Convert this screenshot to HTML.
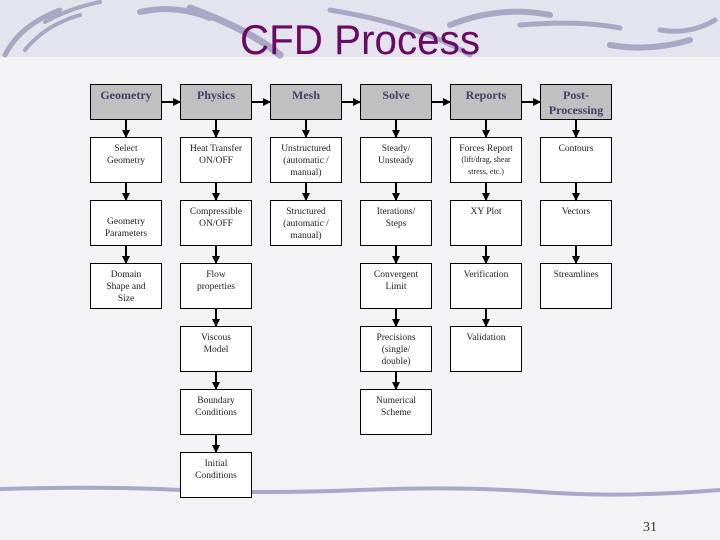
<!DOCTYPE html>
<html><head><meta charset="utf-8"><style>
html,body{margin:0;padding:0;width:720px;height:540px;overflow:hidden;background:#f3f3f5}
</style></head><body>
<svg width="720" height="540" xmlns="http://www.w3.org/2000/svg">
<defs>
<marker id="ah" markerWidth="8" markerHeight="8" refX="7" refY="4" orient="auto" markerUnits="userSpaceOnUse">
<path d="M0,0 L8,4 L0,8 z" fill="#000"/></marker>
</defs>
<rect x="0" y="0" width="720" height="57" fill="#e4e4ee"/>
<g fill="none" stroke="#a8a8c4" stroke-linecap="round">
<path d="M5,55 Q20,25 60,10" stroke-width="5"/>
<path d="M25,50 Q45,25 80,15" stroke-width="4"/>
<path d="M45,22 Q70,8 100,2" stroke-width="4"/>
<path d="M140,12 Q175,4 210,18" stroke-width="6"/>
<path d="M190,8 Q250,30 280,55" stroke-width="7"/>
<path d="M330,10 Q420,25 470,55" stroke-width="5"/>
<path d="M450,25 Q500,5 550,15" stroke-width="6"/>
<path d="M520,25 Q580,20 620,28" stroke-width="5"/>
<path d="M610,45 Q650,52 690,40" stroke-width="6"/>
<path d="M660,30 Q690,35 715,20" stroke-width="5"/>
</g>
<text x="360" y="54" text-anchor="middle" font-family="Liberation Sans, sans-serif" font-size="42" fill="#6a0a64" textLength="240" lengthAdjust="spacingAndGlyphs">CFD Process</text>
<path d="M0,489 Q100,486 180,490 T360,490 T540,492 T720,490" fill="none" stroke="#a8a8c8" stroke-width="4"/>
<text x="650" y="531" text-anchor="middle" font-family="Liberation Serif, serif" font-size="14" fill="#333">31</text>

<g stroke="#000" stroke-width="2" marker-end="url(#ah)">
<line x1="162" y1="102" x2="180" y2="102"/>
<line x1="252" y1="102" x2="270" y2="102"/>
<line x1="342" y1="102" x2="360" y2="102"/>
<line x1="432" y1="102" x2="450" y2="102"/>
<line x1="522" y1="102" x2="540" y2="102"/>
<!-- verticals -->
<line x1="126" y1="120" x2="126" y2="137"/><line x1="126" y1="183" x2="126" y2="200"/><line x1="126" y1="246" x2="126" y2="263"/>
<line x1="216" y1="120" x2="216" y2="137"/><line x1="216" y1="183" x2="216" y2="200"/><line x1="216" y1="246" x2="216" y2="263"/><line x1="216" y1="309" x2="216" y2="326"/><line x1="216" y1="372" x2="216" y2="389"/><line x1="216" y1="435" x2="216" y2="452"/>
<line x1="306" y1="120" x2="306" y2="137"/><line x1="306" y1="183" x2="306" y2="200"/>
<line x1="396" y1="120" x2="396" y2="137"/><line x1="396" y1="183" x2="396" y2="200"/><line x1="396" y1="246" x2="396" y2="263"/><line x1="396" y1="309" x2="396" y2="326"/><line x1="396" y1="372" x2="396" y2="389"/>
<line x1="486" y1="120" x2="486" y2="137"/><line x1="486" y1="183" x2="486" y2="200"/><line x1="486" y1="246" x2="486" y2="263"/><line x1="486" y1="309" x2="486" y2="326"/>
<line x1="576" y1="120" x2="576" y2="137"/><line x1="576" y1="183" x2="576" y2="200"/><line x1="576" y1="246" x2="576" y2="263"/>
</g>

<g fill="#c0c0c0" stroke="#000" stroke-width="1">
<rect x="90.5" y="84.5" width="71" height="35"/><rect x="180.5" y="84.5" width="71" height="35"/><rect x="270.5" y="84.5" width="71" height="35"/><rect x="360.5" y="84.5" width="71" height="35"/><rect x="450.5" y="84.5" width="71" height="35"/><rect x="540.5" y="84.5" width="71" height="35"/>
</g>
<g font-family="Liberation Serif, serif" font-size="12" font-weight="bold" fill="#40406a" text-anchor="middle">
<text x="126" y="99">Geometry</text><text x="216" y="99">Physics</text><text x="306" y="99">Mesh</text><text x="396" y="99">Solve</text><text x="486" y="99">Reports</text><text x="576" y="99">Post-</text><text x="576" y="114">Processing</text>
</g>

<g fill="#fff" stroke="#000" stroke-width="1">
<rect x="90.5" y="137.5" width="71" height="45"/><rect x="90.5" y="200.5" width="71" height="45"/><rect x="90.5" y="263.5" width="71" height="45"/>
<rect x="180.5" y="137.5" width="71" height="45"/><rect x="180.5" y="200.5" width="71" height="45"/><rect x="180.5" y="263.5" width="71" height="45"/><rect x="180.5" y="326.5" width="71" height="45"/><rect x="180.5" y="389.5" width="71" height="45"/><rect x="180.5" y="452.5" width="71" height="45"/>
<rect x="270.5" y="137.5" width="71" height="45"/><rect x="270.5" y="200.5" width="71" height="45"/>
<rect x="360.5" y="137.5" width="71" height="45"/><rect x="360.5" y="200.5" width="71" height="45"/><rect x="360.5" y="263.5" width="71" height="45"/><rect x="360.5" y="326.5" width="71" height="45"/><rect x="360.5" y="389.5" width="71" height="45"/>
<rect x="450.5" y="137.5" width="71" height="45"/><rect x="450.5" y="200.5" width="71" height="45"/><rect x="450.5" y="263.5" width="71" height="45"/><rect x="450.5" y="326.5" width="71" height="45"/>
<rect x="540.5" y="137.5" width="71" height="45"/><rect x="540.5" y="200.5" width="71" height="45"/><rect x="540.5" y="263.5" width="71" height="45"/>
</g>

<g font-family="Liberation Serif, serif" font-size="9.5" fill="#222" text-anchor="middle">
<text x="126" y="151">Select</text><text x="126" y="163">Geometry</text>
<text x="126" y="224">Geometry</text><text x="126" y="236">Parameters</text>
<text x="126" y="277">Domain</text><text x="126" y="289">Shape and</text><text x="126" y="301">Size</text>

<text x="216" y="151">Heat Transfer</text><text x="216" y="163">ON/OFF</text>
<text x="216" y="214">Compressible</text><text x="216" y="226">ON/OFF</text>
<text x="216" y="277">Flow</text><text x="216" y="289">properties</text>
<text x="216" y="340">Viscous</text><text x="216" y="352">Model</text>
<text x="216" y="403">Boundary</text><text x="216" y="415">Conditions</text>
<text x="216" y="466">Initial</text><text x="216" y="478">Conditions</text>

<text x="306" y="151">Unstructured</text><text x="306" y="163">(automatic /</text><text x="306" y="175">manual)</text>
<text x="306" y="214">Structured</text><text x="306" y="226">(automatic /</text><text x="306" y="238">manual)</text>

<text x="396" y="151">Steady/</text><text x="396" y="163">Unsteady</text>
<text x="396" y="214">Iterations/</text><text x="396" y="226">Steps</text>
<text x="396" y="277">Convergent</text><text x="396" y="289">Limit</text>
<text x="396" y="340">Precisions</text><text x="396" y="352">(single/</text><text x="396" y="364">double)</text>
<text x="396" y="403">Numerical</text><text x="396" y="415">Scheme</text>

<text x="486" y="151">Forces Report</text>
<text x="486" y="214">XY Plot</text>
<text x="486" y="277">Verification</text>
<text x="486" y="340">Validation</text>

<text x="576" y="151">Contours</text>
<text x="576" y="214">Vectors</text>
<text x="576" y="277">Streamlines</text>
</g>
<g font-family="Liberation Serif, serif" font-size="8" fill="#222" text-anchor="middle">
<text x="486" y="162">(lift/drag, shear</text><text x="486" y="174">stress, etc.)</text>
</g>
</svg>
</body></html>
